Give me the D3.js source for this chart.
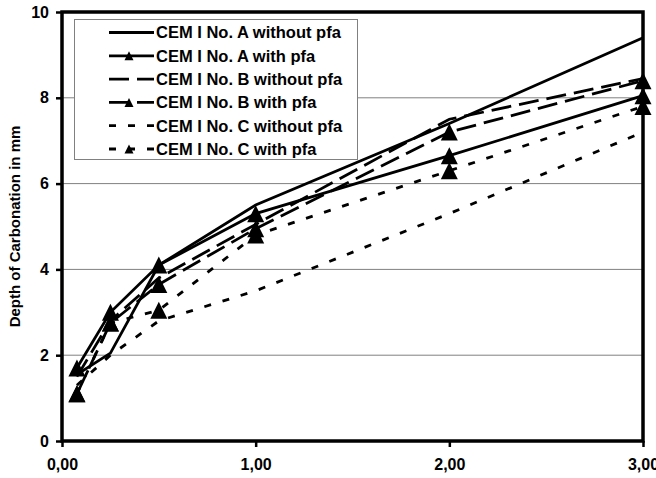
<!DOCTYPE html>
<html><head><meta charset="utf-8">
<script src="https://cdn.jsdelivr.net/npm/d3@7"></script>
<style>body{margin:0;background:#fff}svg{display:block}text{font-family:"Liberation Sans",Arial,sans-serif;font-weight:bold}</style>
</head><body><svg id="c" width="656" height="478"></svg>
<script>
const ages = [0.077, 0.25, 0.5, 1, 2, 3];
const seriesNames = ["CEM I No. A without pfa","CEM I No. A with pfa","CEM I No. B without pfa","CEM I No. B with pfa","CEM I No. C without pfa","CEM I No. C with pfa"];
const aWithout = [1.55, 2.05, 4.1, 5.5, 7.4, 9.4];
const aWith    = [1.7, 3.0, 4.1, 5.3, 6.65, 8.05];
const bWithout = [1.5, 2.8, 3.8, 5.05, 7.5, 8.45];
const bWith    = [1.1, 2.75, 3.65, 4.95, 7.2, 8.4];
const cWithout = [1.3, 2.0, 2.8, 3.5, 5.3, 7.2];
const cWith    = [1.1, 2.75, 3.05, 4.8, 6.3, 7.8];
const xTicks = [0, 1, 2, 3];
const yTicks = [0, 2, 4, 6, 8, 10];
const yTitle = "Depth of Carbonation in mm";

const seriesValues = [aWithout, aWith, bWithout, bWith, cWithout, cWith];
const dashes = ["none","none","20,8","20,8","7,12","7,12"];
const markers = [false,true,false,true,false,true];

const svg = d3.select("#c");
const L=62, R=643, T=12, B=441;
const x = d3.scaleLinear().domain([0,3]).range([L,R]);
const y = d3.scaleLinear().domain([0,10]).range([B,T]);

// gridlines
svg.append("g").selectAll("line").data(yTicks.filter(d=>d>0&&d<10)).join("line")
  .attr("x1",L).attr("x2",R).attr("y1",d=>y(d)).attr("y2",d=>y(d))
  .attr("stroke","#808080").attr("stroke-width",1);

// axes
const fmt = d=>d3.format(".2f")(d).replace(".",",");
const xa = svg.append("g").attr("transform",`translate(0,${B})`)
  .call(d3.axisBottom(x).tickValues(xTicks).tickFormat(fmt).tickSize(6).tickPadding(12));
const ya = svg.append("g").attr("transform",`translate(${L},0)`)
  .call(d3.axisLeft(y).tickValues(yTicks).tickFormat(d3.format("d")).tickSize(6).tickPadding(7));
[xa,ya].forEach(a=>{a.select(".domain").remove();
  a.selectAll(".tick line").attr("stroke","#000").attr("stroke-width",2.5);
  a.selectAll(".tick text").attr("fill","#000").style("font-size","16px").style("font-weight","bold").style("font-family","'Liberation Sans',Arial,sans-serif");});

// frame
svg.append("rect").attr("x",L).attr("y",T).attr("width",R-L).attr("height",B-T)
  .attr("fill","none").attr("stroke","#000").attr("stroke-width",3.5);

const line = d3.line().x((d,i)=>x(ages[i])).y(d=>y(d));
const tri = (w,h)=>`M0,${-h/2}L${w/2},${h/2}L${-w/2},${h/2}Z`;

seriesValues.forEach((vals,k)=>{
  svg.append("path").datum(vals).attr("d",line).attr("fill","none")
    .attr("stroke","#000").attr("stroke-width",2.8).attr("stroke-dasharray",dashes[k]);
});
seriesValues.forEach((vals,k)=>{
  if(!markers[k]) return;
  svg.append("g").selectAll("path").data(vals).join("path")
    .attr("transform",(d,i)=>`translate(${x(ages[i])},${y(d)})`)
    .attr("d",tri(17,17)).attr("fill","#000");
});

// legend
const lg = svg.append("g");
lg.append("rect").attr("x",74.5).attr("y",19.5).attr("width",283).attr("height",140)
  .attr("fill","#fff").attr("stroke","#808080").attr("stroke-width",1);
seriesNames.forEach((n,k)=>{
  const yy = 32.5 + k*23.3;
  lg.append("line").attr("x1",109).attr("x2",154).attr("y1",yy).attr("y2",yy)
    .attr("stroke","#000").attr("stroke-width",2.8).attr("stroke-dasharray",dashes[k]);
  if(markers[k]) lg.append("path").attr("transform",`translate(129,${yy})`).attr("d",tri(9,9)).attr("fill","#000");
  lg.append("text").attr("x",156).attr("y",yy).attr("dy","0.36em").style("font-size","16.5px").text(n);
});

// y title
svg.append("text").attr("transform",`translate(20,${(T+B)/2}) rotate(-90)`)
  .attr("text-anchor","middle").style("font-size","15px").text(yTitle);
</script></body></html>
